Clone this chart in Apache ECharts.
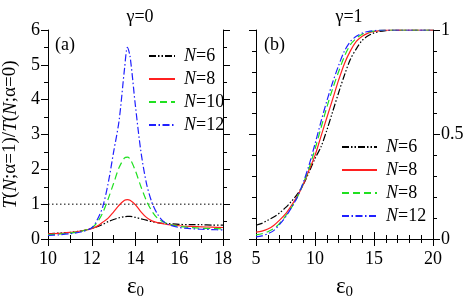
<!DOCTYPE html>
<html><head><meta charset="utf-8">
<script src="https://cdn.jsdelivr.net/npm/echarts@6/dist/echarts.min.js"></script>
<style>html,body{margin:0;padding:0;background:#fff}#c{width:469px;height:305px}</style>
</head><body><div id="c"></div>
<script>
// ---- data ----
const epsA = [10,10.5,11,11.5,12,12.25,12.5,12.75,13,13.25,13.5,13.63,13.75,14,14.25,14.5,14.75,15,15.25,15.5,16,16.5,17,17.5,18];
const a_N6  = [0.15,0.17,0.19,0.23,0.30,0.35,0.42,0.50,0.56,0.61,0.64,0.65,0.65,0.62,0.58,0.54,0.50,0.47,0.45,0.44,0.42,0.41,0.41,0.40,0.40];
const a_N8  = [0.15,0.16,0.19,0.23,0.30,0.37,0.48,0.60,0.78,0.97,1.11,1.13,1.11,0.98,0.78,0.62,0.52,0.47,0.44,0.41,0.38,0.36,0.35,0.34,0.33];
const a_N10 = [0.12,0.14,0.17,0.22,0.32,0.48,0.75,1.15,1.60,2.05,2.33,2.35,2.30,1.95,1.50,1.10,0.80,0.60,0.50,0.43,0.36,0.33,0.31,0.30,0.29];
const a_N12 = [0.10,0.12,0.15,0.20,0.32,0.55,0.92,1.60,2.50,3.40,4.90,5.50,5.25,3.80,2.50,1.60,1.05,0.72,0.52,0.42,0.33,0.30,0.28,0.27,0.26];
const refX = [10,18];
const refY = [1,1];

const epsB = [5,5.5,6,6.5,7,7.5,8,8.5,9,9.5,10,10.5,11,11.5,12,12.5,13,13.5,14,14.5,15,15.5,16,16.5,17,17.5,18,18.5,19,19.5,20];
const b_N6  = [0.066,0.075,0.09,0.105,0.125,0.15,0.18,0.215,0.26,0.32,0.385,0.44,0.52,0.61,0.70,0.785,0.86,0.91,0.95,0.972,0.986,0.993,0.997,0.999,1,1,1,1,1,1,1];
const b_N8  = [0.033,0.038,0.048,0.065,0.09,0.12,0.16,0.205,0.26,0.33,0.40,0.49,0.58,0.67,0.76,0.84,0.90,0.945,0.97,0.985,0.993,0.997,0.999,1,1,1,1,1,1,1,1];
const b_N8b = [0.02,0.025,0.035,0.05,0.075,0.11,0.15,0.20,0.265,0.34,0.43,0.53,0.63,0.72,0.80,0.875,0.93,0.96,0.98,0.99,0.995,0.998,1,1,1,1,1,1,1,1,1];
const b_N12 = [0.01,0.015,0.025,0.04,0.07,0.105,0.15,0.20,0.27,0.355,0.455,0.56,0.66,0.75,0.83,0.90,0.945,0.97,0.985,0.993,0.997,0.999,1,1,1,1,1,1,1,1,1];

const legA = ['6','8','10','12'];
const legB = ['6','8','8','12'];
const titles = ['γ=0','γ=1'];

// ---- styles ----
const FONT = 'Liberation Serif';
const FS = 18;
const styles = [
  {color:'#000000', type:[7,2,1.5,2,1.5,2]},
  {color:'#ff2020', type:'solid'},
  {color:'#20e020', type:[7,4]},
  {color:'#2020ff', type:[7,2.5,1.5,2.5]}
];
function zip(xs, ys){ return xs.map((x,i)=>[x, ys[i]]); }
function mk(name, xs, ys, st, xi, yi){
  return {name, type:'line', xAxisIndex:xi, yAxisIndex:yi, data:zip(xs,ys),
    showSymbol:false, symbol:'none', smooth:0.3, z:3,
    lineStyle:{color:st.color, type:st.type, width:1.2}, itemStyle:{color:st.color}};
}
const namesA = ['a6','a8','a10','a12'];
const namesB = ['b6','b8','b8x','b12'];
const seriesA = [a_N6,a_N8,a_N10,a_N12].map((d,i)=>mk(namesA[i], epsA, d, styles[i], 0, 0));
const seriesB = [b_N6,b_N8,b_N8b,b_N12].map((d,i)=>mk(namesB[i], epsB, d, styles[i], 2, 2));
const refSeries = {name:'ref', type:'line', xAxisIndex:0, yAxisIndex:0, data:zip(refX,refY), symbol:'none',
  lineStyle:{color:'#000', type:[1.5,2.5], width:1}, z:2, silent:true};

const lineC = {show:true, lineStyle:{color:'#000', width:1}};
function xax(grid, pos, min, max, interval, minor, showLbl){
  return {type:'value', gridIndex:grid, position:pos, min, max, interval,
    axisLine:lineC, splitLine:{show:false},
    axisTick:{show:true, inside:false, length:7, lineStyle:{color:'#000'}},
    minorTick:{show:true, splitNumber:minor, length:4, lineStyle:{color:'#000'}},
    axisLabel: showLbl ? {show:true, margin:11, fontFamily:FONT, fontSize:FS, color:'#000'} : {show:false},
    name: showLbl ? '{e|ε}{s|0}' : '', nameLocation:'middle', nameGap:34,
    nameTextStyle:{fontFamily:FONT, rich:{e:{fontFamily:FONT, fontSize:23, color:'#000'}, s:{fontFamily:FONT, fontSize:15, color:'#000', padding:[12,0,0,0]}}}
  };
}
function yax(grid, pos, min, max, interval, minor, showLbl, name){
  return {type:'value', gridIndex:grid, position:pos, min, max, interval,
    axisLine:lineC, splitLine:{show:false},
    axisTick:{show:true, inside:false, length:7, lineStyle:{color:'#000'}},
    minorTick:{show:true, splitNumber:minor, length:4, lineStyle:{color:'#000'}},
    axisLabel: showLbl ? {show:true, margin:8, fontFamily:FONT, fontSize:FS, color:'#000'} : {show:false},
    name: name || '', nameLocation:'middle', nameGap:28, nameRotate:90,
    nameTextStyle:{fontFamily:FONT, fontSize:19, color:'#000',
      rich:{i:{fontFamily:FONT, fontSize:19, fontStyle:'italic', color:'#000'}, n:{fontFamily:FONT, fontSize:19, color:'#000'}}}
  };
}
function legend(names, labels, left, top, w){
  return {data:names, orient:'vertical', left, top, itemWidth:w, itemHeight:12, itemGap:5,
    itemStyle:{opacity:0},
    formatter: n => '{i|N}{n|=' + labels[names.indexOf(n)] + '}',
    textStyle:{fontFamily:FONT, fontSize:FS, color:'#000', padding:[0,0,0,4],
      rich:{i:{fontFamily:FONT, fontSize:FS, fontStyle:'italic', color:'#000'}, n:{fontFamily:FONT, fontSize:FS, color:'#000'}}}
  };
}

const option = {
  animation:false,
  backgroundColor:'#fff',
  textStyle:{fontFamily:FONT},
  grid:[{left:46, top:30, width:177, height:222},{left:256, top:30, width:177, height:222}],
  title:[
    {text:titles[0], left:135, top:3, textAlign:'center', textStyle:{fontFamily:FONT, fontSize:FS, fontWeight:'normal', color:'#000'}},
    {text:titles[1], left:344, top:3, textAlign:'center', textStyle:{fontFamily:FONT, fontSize:FS, fontWeight:'normal', color:'#000'}}
  ],
  xAxis:[
    xax(0,'bottom',10,18,2,2,true),
    xax(0,'top',10,18,2,2,false),
    xax(1,'bottom',5,20,5,5,true),
    xax(1,'top',5,20,5,5,false)
  ],
  yAxis:[
    yax(0,'left',0,6,1,2,true,'{i|T}{n|(}{i|N}{n|;α=1)/}{i|T}{n|(}{i|N}{n|;α=0)}'),
    yax(0,'right',0,6,1,2,false),
    yax(1,'right',0,1,0.5,5,true),
    yax(1,'left',0,1,0.5,5,false)
  ],
  legend:[legend(namesA, legA, 143, 42, 26), legend(namesB, legB, 336, 133, 35)],
  graphic:[
    {type:'text', left:55, top:36, style:{text:'(a)', font:'18px "Liberation Serif"', fill:'#000'}},
    {type:'text', left:264, top:36, style:{text:'(b)', font:'18px "Liberation Serif"', fill:'#000'}}
  ],
  series:[refSeries].concat(seriesA, seriesB)
};
const chart = echarts.init(document.getElementById('c'), null, {renderer:'canvas'});
chart.setOption(option);
</script></body></html>
